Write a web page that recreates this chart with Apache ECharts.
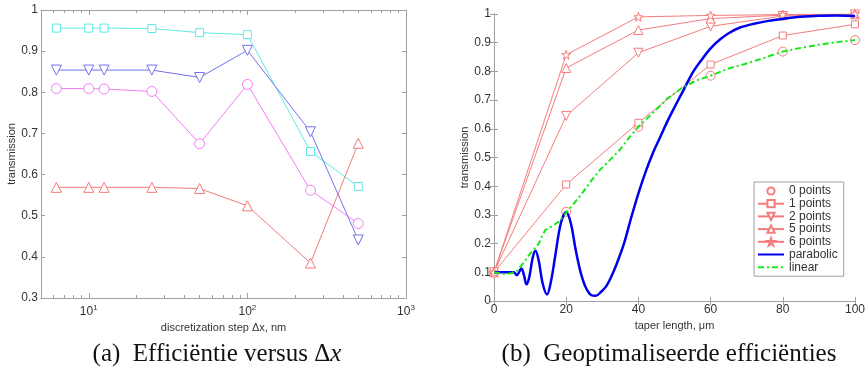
<!DOCTYPE html>
<html>
<head>
<meta charset="utf-8">
<script src="https://cdn.jsdelivr.net/npm/echarts@6/dist/echarts.min.js"></script>
<style>
  html, body { margin: 0; padding: 0; background: #fff; }
  #chart { width: 868px; height: 376px; }
</style>
</head>
<body>
<div id="chart"></div>
<script>
// (a) efficiency vs discretization step
const dxSteps = [6.25, 10, 12.5, 25, 50, 100, 250, 500];
const effSquare = [0.956, 0.956, 0.956, 0.955, 0.945, 0.940, 0.656, 0.571];
const effDown = [0.854, 0.854, 0.854, 0.854, 0.836, 0.902, 0.704, 0.441];
const effCircle = [0.809, 0.809, 0.808, 0.802, 0.675, 0.819, 0.562, 0.481];
const effUp = [0.569, 0.569, 0.569, 0.569, 0.566, 0.524, 0.385, 0.676];
const logMajor = [10, 100, 1000];
const logMinor = [6, 7, 8, 9, 20, 30, 40, 50, 60, 70, 80, 90, 200, 300, 400, 500, 600, 700, 800, 900];

// (b) optimised efficiencies
const taperLengths = [0, 20, 40, 60, 80, 100];
const pts0 = [0.10, 0.311, 0.607, 0.785, 0.869, 0.909];
const pts1 = [0.10, 0.406, 0.621, 0.824, 0.925, 0.964];
const pts2 = [0.10, 0.645, 0.865, 0.957, 0.993, 0.998];
const pts5 = [0.10, 0.812, 0.944, 0.984, 0.996, 0.999];
const pts6 = [0.10, 0.858, 0.990, 0.995, 0.998, 1.0];
const parX = [0, 2, 4, 5.5, 6.3, 7.6, 8.3, 9.0, 9.8, 10.7, 11.5, 12.4, 13.5, 14.7, 15.8, 17.0, 18.5, 20.0, 21.3, 22.6, 24.0, 25.5, 27.0, 28.2, 29.5, 31.0, 32.5, 34.0, 36.0, 38.0, 40.0, 42.0, 44.0, 46.0, 48.0, 50.0, 52.5, 55.0, 57.5, 60.0, 62.5, 65.0, 68.0, 72.0, 76.0, 80.0, 85.0, 90.0, 95.0, 100];
const parY = [0.10, 0.10, 0.10, 0.10, 0.09, 0.113, 0.09, 0.058, 0.085, 0.15, 0.175, 0.14, 0.06, 0.023, 0.07, 0.16, 0.27, 0.31, 0.27, 0.18, 0.10, 0.045, 0.02, 0.018, 0.03, 0.05, 0.085, 0.13, 0.20, 0.29, 0.375, 0.45, 0.515, 0.57, 0.625, 0.675, 0.735, 0.795, 0.84, 0.88, 0.91, 0.933, 0.952, 0.966, 0.976, 0.983, 0.99, 0.994, 0.995, 0.993];
const linX = [0, 1.5, 3.3, 5, 6.5, 8, 9.7, 11, 12.4, 13.3, 14.2, 16, 17.9, 19, 20.2, 22.5, 24.7, 27, 29.3, 32, 34.8, 37.5, 40, 44, 48, 52, 56, 60, 65, 70.4, 75, 80, 85, 90, 95, 100];
const linY = [0.10, 0.097, 0.093, 0.098, 0.107, 0.13, 0.16, 0.18, 0.20, 0.225, 0.247, 0.26, 0.276, 0.292, 0.311, 0.345, 0.38, 0.42, 0.456, 0.49, 0.526, 0.57, 0.607, 0.655, 0.705, 0.742, 0.768, 0.785, 0.81, 0.829, 0.848, 0.869, 0.882, 0.893, 0.902, 0.909];

const FONT = 'Liberation Sans, Arial, sans-serif';
const SERIF = 'Liberation Serif, serif';
const AXIS_GRAY = '#a0a0a0';
const LABEL = '#333';
const SHAPE_DOWN = 'path://M0,0L10,0L5,8.66Z';
const SHAPE_STAR = 'path://M5,0L6.18,3.8L10,3.8L6.9,6.1L8.1,10L5,7.6L1.9,10L3.1,6.1L0,3.8L3.82,3.8Z';

const zip = (xs, ys) => xs.map((x, i) => [x, ys[i]]);

const boxLine = { lineStyle: { color: AXIS_GRAY, width: 1 } };

// extra axis used only to draw ticks (box sides / minor ticks)
const tickAxis = (base, extra) => Object.assign({
  axisLine: boxLine,
  axisLabel: { show: false },
  splitLine: { show: false },
  axisTick: { inside: true, length: 4, lineStyle: { color: AXIS_GRAY } }
}, base, extra);

const markerSeries = (name, xi, yi, xs, ys, color, symbol, size, showLine) => ({
  name: name,
  type: 'line',
  xAxisIndex: xi,
  yAxisIndex: yi,
  data: zip(xs, ys),
  symbol: symbol,
  symbolSize: size,
  lineStyle: { color: color, width: showLine ? 1 : 0 },
  itemStyle: { color: '#fff', borderColor: color, borderWidth: 1 },
  emphasis: { disabled: true },
  z: 3
});

const chart = echarts.init(document.getElementById('chart'), null, { renderer: 'canvas' });

const logLabel = {
  color: LABEL, fontFamily: FONT, fontSize: 12, margin: 6,
  formatter: v => {
    const e = Math.round(Math.log10(v));
    return Math.abs(Math.pow(10, e) - v) < 1e-6 ? '10{s|' + e + '}' : '';
  },
  rich: { s: { fontSize: 8, fontFamily: FONT, color: LABEL, padding: [0, 0, 8, 0] } }
};

chart.setOption({
  backgroundColor: '#fff',
  animation: false,
  textStyle: { fontFamily: FONT },
  title: [
    {
      text: '(a)  Efficiëntie versus Δ{i|x}',
      left: 212, top: 337, textAlign: 'center',
      textStyle: {
        fontFamily: SERIF, fontSize: 25, fontWeight: 'normal', color: '#111',
        rich: { i: { fontFamily: SERIF, fontSize: 25, fontStyle: 'italic', color: '#111' } }
      }
    },
    {
      text: '(b)  Geoptimaliseerde efficiënties',
      left: 664, top: 337, textAlign: 'center',
      textStyle: { fontFamily: SERIF, fontSize: 25, fontWeight: 'normal', color: '#111' }
    }
  ],
  grid: [
    { left: 41, top: 10, width: 365, height: 288 },
    { left: 494, top: 14, width: 364, height: 287 }
  ],
  legend: {
    left: 754, top: 182,
    orient: 'vertical',
    backgroundColor: '#fff',
    borderColor: AXIS_GRAY, borderWidth: 1,
    padding: [3, 6, 3, 3],
    itemWidth: 26, itemHeight: 9, itemGap: 0.7,
    textStyle: { fontFamily: FONT, fontSize: 12, color: LABEL, lineHeight: 11 },
    data: [
      '0 points', '1 points', '2 points', '5 points', '6 points',
      { name: 'parabolic', itemStyle: { opacity: 0 } },
      { name: 'linear', itemStyle: { opacity: 0 } }
    ]
  },
  xAxis: [
    // 0: left chart, major log ticks
    {
      type: 'log', gridIndex: 0, logBase: 10, min: 5, max: 1000, position: 'bottom',
      name: 'discretization step Δx, nm', nameLocation: 'middle', nameGap: 18,
      nameTextStyle: { fontFamily: FONT, fontSize: 11, color: LABEL },
      axisLine: boxLine,
      axisTick: { inside: true, length: 5, customValues: logMajor, lineStyle: { color: AXIS_GRAY } },
      axisLabel: Object.assign({ customValues: logMajor }, logLabel),
      splitLine: { show: false }, minorTick: { show: false }
    },
    // 1: left chart, minor ticks bottom
    tickAxis({ type: 'log', gridIndex: 0, logBase: 10, min: 5, max: 1000, position: 'bottom' },
      { axisLine: { show: false }, axisTick: { inside: true, length: 3, customValues: logMinor, lineStyle: { color: AXIS_GRAY } } }),
    // 2: left chart, top major
    tickAxis({ type: 'log', gridIndex: 0, logBase: 10, min: 5, max: 1000, position: 'top' },
      { axisTick: { inside: true, length: 5, customValues: logMajor, lineStyle: { color: AXIS_GRAY } } }),
    // 3: left chart, top minor
    tickAxis({ type: 'log', gridIndex: 0, logBase: 10, min: 5, max: 1000, position: 'top' },
      { axisLine: { show: false }, axisTick: { inside: true, length: 3, customValues: logMinor, lineStyle: { color: AXIS_GRAY } } }),
    // 4: right chart bottom
    {
      type: 'value', gridIndex: 1, min: 0, max: 100, interval: 20, position: 'bottom',
      name: 'taper length, μm', nameLocation: 'middle', nameGap: 14,
      nameTextStyle: { fontFamily: FONT, fontSize: 11, color: LABEL },
      axisLine: boxLine,
      axisTick: { inside: true, length: 4, lineStyle: { color: AXIS_GRAY } },
      axisLabel: { color: LABEL, fontFamily: FONT, fontSize: 12, margin: 3 },
      splitLine: { show: false }
    },
    // 5: right chart top
    tickAxis({ type: 'value', gridIndex: 1, min: 0, max: 100, interval: 20, position: 'top' })
  ],
  yAxis: [
    // 0: left chart left
    {
      type: 'value', gridIndex: 0, min: 0.3, max: 1, interval: 0.1, position: 'left',
      name: 'transmission', nameLocation: 'middle', nameGap: 19,
      nameTextStyle: { fontFamily: FONT, fontSize: 11, color: LABEL },
      axisLine: boxLine,
      axisTick: { inside: true, length: 4, lineStyle: { color: AXIS_GRAY } },
      axisLabel: { color: LABEL, fontFamily: FONT, fontSize: 12, margin: 3 },
      splitLine: { show: false }
    },
    // 1: left chart right
    tickAxis({ type: 'value', gridIndex: 0, min: 0.3, max: 1, interval: 0.1, position: 'right' }),
    // 2: right chart left
    {
      type: 'value', gridIndex: 1, min: 0, max: 1, interval: 0.1, position: 'left',
      name: 'transmission', nameLocation: 'middle', nameGap: 21,
      nameTextStyle: { fontFamily: FONT, fontSize: 11, color: LABEL },
      axisLine: boxLine,
      axisTick: { inside: true, length: 4, lineStyle: { color: AXIS_GRAY } },
      axisLabel: { color: LABEL, fontFamily: FONT, fontSize: 12, margin: 3 },
      splitLine: { show: false }
    },
    // 3: right chart right
    tickAxis({ type: 'value', gridIndex: 1, min: 0, max: 1, interval: 0.1, position: 'right' })
  ],
  series: [
    // left chart
    markerSeries('sq', 0, 0, dxSteps, effSquare, '#5fe8e8', 'rect', 8, true),
    markerSeries('down', 0, 0, dxSteps, effDown, '#7373f2', SHAPE_DOWN, 10, true),
    markerSeries('circ', 0, 0, dxSteps, effCircle, '#f57cf5', 'circle', 10, true),
    markerSeries('up', 0, 0, dxSteps, effUp, '#f57a7a', 'triangle', 10, true),
    // right chart
    markerSeries('0 points', 4, 2, taperLengths, pts0, '#f47c7c', 'circle', 9, false),
    markerSeries('1 points', 4, 2, taperLengths, pts1, '#f47c7c', 'rect', 7, true),
    markerSeries('2 points', 4, 2, taperLengths, pts2, '#f47c7c', SHAPE_DOWN, 9, true),
    markerSeries('5 points', 4, 2, taperLengths, pts5, '#f47c7c', 'triangle', 9, true),
    markerSeries('6 points', 4, 2, taperLengths, pts6, '#f47c7c', SHAPE_STAR, 9, true),
    {
      name: 'parabolic', type: 'line', xAxisIndex: 4, yAxisIndex: 2,
      data: zip(parX, parY), showSymbol: false, symbol: 'none',
      smooth: 0.35,
      lineStyle: { color: '#0000f0', width: 2.5 },
      itemStyle: { color: '#0000f0' },
      emphasis: { disabled: true }, z: 4
    },
    {
      name: 'linear', type: 'line', xAxisIndex: 4, yAxisIndex: 2,
      data: zip(linX, linY), showSymbol: false, symbol: 'none',
      lineStyle: { color: '#18e818', width: 2, type: [6, 3, 2, 3] },
      itemStyle: { color: '#18e818' },
      emphasis: { disabled: true }, z: 5
    }
  ]
});
</script>
</body>
</html>
